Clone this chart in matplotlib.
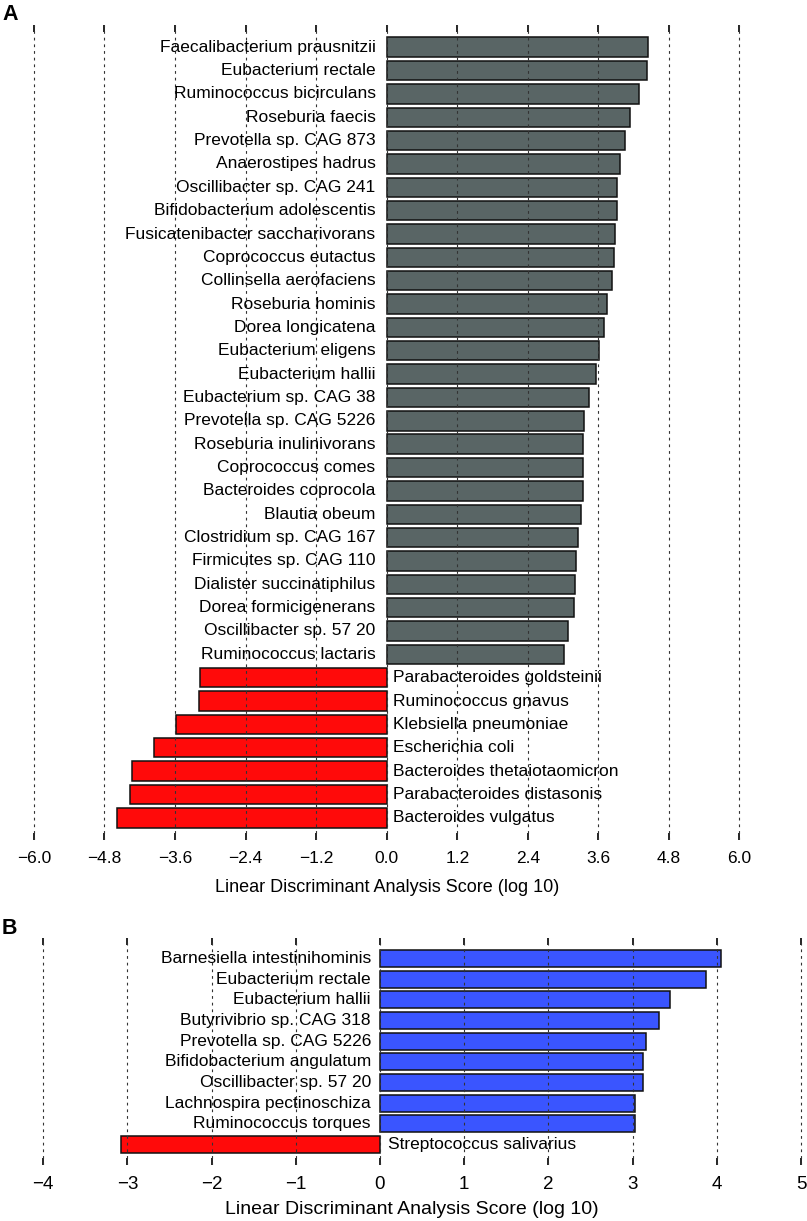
import matplotlib
matplotlib.use("Agg")
import matplotlib.pyplot as plt
import numpy as np

plt.rcParams['font.family'] = ['Liberation Sans', 'DejaVu Sans']

# ---- Panel A data ----
a_names = ["Faecalibacterium prausnitzii", "Eubacterium rectale", "Ruminococcus bicirculans",
           "Roseburia faecis", "Prevotella sp. CAG 873", "Anaerostipes hadrus",
           "Oscillibacter sp. CAG 241", "Bifidobacterium adolescentis",
           "Fusicatenibacter saccharivorans", "Coprococcus eutactus", "Collinsella aerofaciens",
           "Roseburia hominis", "Dorea longicatena", "Eubacterium eligens", "Eubacterium hallii",
           "Eubacterium sp. CAG 38", "Prevotella sp. CAG 5226", "Roseburia inulinivorans",
           "Coprococcus comes", "Bacteroides coprocola", "Blautia obeum",
           "Clostridium sp. CAG 167", "Firmicutes sp. CAG 110", "Dialister succinatiphilus",
           "Dorea formicigenerans", "Oscillibacter sp. 57 20", "Ruminococcus lactaris",
           "Parabacteroides goldsteinii", "Ruminococcus gnavus", "Klebsiella pneumoniae",
           "Escherichia coli", "Bacteroides thetaiotaomicron", "Parabacteroides distasonis",
           "Bacteroides vulgatus"]
a_scores = [4.44, 4.43, 4.29, 4.14, 4.05, 3.97, 3.92, 3.91, 3.89, 3.86, 3.83, 3.74, 3.70,
            3.61, 3.56, 3.44, 3.35, 3.34, 3.34, 3.33, 3.31, 3.25, 3.22, 3.21, 3.19, 3.09, 3.01,
            -3.18, -3.20, -3.58, -3.96, -4.33, -4.37, -4.59]
a_ticks = [-6.0, -4.8, -3.6, -2.4, -1.2, 0.0, 1.2, 2.4, 3.6, 4.8, 6.0]

# ---- Panel B data ----
b_names = ["Barnesiella intestinihominis", "Eubacterium rectale", "Eubacterium hallii",
           "Butyrivibrio sp. CAG 318", "Prevotella sp. CAG 5226", "Bifidobacterium angulatum",
           "Oscillibacter sp. 57 20", "Lachnospira pectinoschiza", "Ruminococcus torques",
           "Streptococcus salivarius"]
b_scores = [4.05, 3.87, 3.44, 3.31, 3.16, 3.12, 3.12, 3.03, 3.03, -3.08]
b_ticks = [-4, -3, -2, -1, 0, 1, 2, 3, 4, 5]

W, H = 807, 1221
fig = plt.figure(figsize=(W / 100, H / 100), dpi=100)


def panel(rect, names, scores, ticks, xlim, pos_color, neg_color, fs_lab, fs_tick,
          fs_xlab, tickfmt, ypad, off_pos, off_neg, xlabel_pad):
    ax = fig.add_axes(rect)
    n = len(names)
    y = np.arange(n)
    colors = [pos_color if s > 0 else neg_color for s in scores]
    ax.barh(y, scores, height=0.83, color=colors, edgecolor='#111111', linewidth=1.1, zorder=2)
    for yi, s, name in zip(y, scores, names):
        if s > 0:
            ax.annotate(name, (0, yi), xytext=(off_pos, 0), textcoords='offset points',
                        ha='right', va='center', fontsize=fs_lab, zorder=4)
        else:
            ax.annotate(name, (0, yi), xytext=(off_neg, 0), textcoords='offset points',
                        ha='left', va='center', fontsize=fs_lab, zorder=4)
    ax.set_ylim(n - 1 + ypad, -ypad)
    ax.set_xlim(*xlim)
    ax.set_xticks(ticks)
    ax.set_xticklabels([tickfmt(t) for t in ticks], fontsize=fs_tick)
    ax.set_yticks([])
    for sp in ax.spines.values():
        sp.set_visible(False)
    ax.tick_params(axis='x', direction='in', top=True, bottom=True, length=5, width=1.2,
                   pad=8, color='black')
    for t in ticks:
        ax.axvline(t, color='#333333', linestyle=(0, (2.5, 3.5)), linewidth=0.8, zorder=3)
    ax.set_xlabel("Linear Discriminant Analysis Score (log 10)", fontsize=fs_xlab,
                  labelpad=xlabel_pad)
    return ax


# Panel A: zero at px 386.7, 58.8 px/unit
x0A, sA = 386.7, 58.8
xlimA = (-6.3, 6.3)
leftA = (x0A + xlimA[0] * sA) / W
widthA = (xlimA[1] - xlimA[0]) * sA / W
panel([leftA, 1 - 840 / H, widthA, (840 - 25) / H], a_names, a_scores, a_ticks, xlimA,
      '#596565', '#ff0a0a', 12.5, 12.5, 13, lambda t: f"{t:.1f}".replace('-', '\u2212'),
      0.95, -8, 4.5, 9)

# Panel B: zero at px 380, 84.2 px/unit
x0B, sB = 380.0, 84.2
xlimB = (-4.3, 5.05)
leftB = (x0B + xlimB[0] * sB) / W
widthB = (xlimB[1] - xlimB[0]) * sB / W
panel([leftB, 1 - 1165 / H, widthB, (1165 - 938) / H], b_names, b_scores, b_ticks, xlimB,
      '#3a55ff', '#ff0a0a', 12.5, 13.5, 14, lambda t: f"{t:d}".replace('-', '\u2212'),
      1.0, -6.5, 6, 6)

fig.text(2 / W, 1 - 15 / H, "A", fontsize=15.5, fontweight='bold', va='center', ha='left')
fig.text(2 / W, 1 - 928 / H, "B", fontsize=15.5, fontweight='bold', va='center', ha='left')

fig.savefig("out.png", dpi=100)
